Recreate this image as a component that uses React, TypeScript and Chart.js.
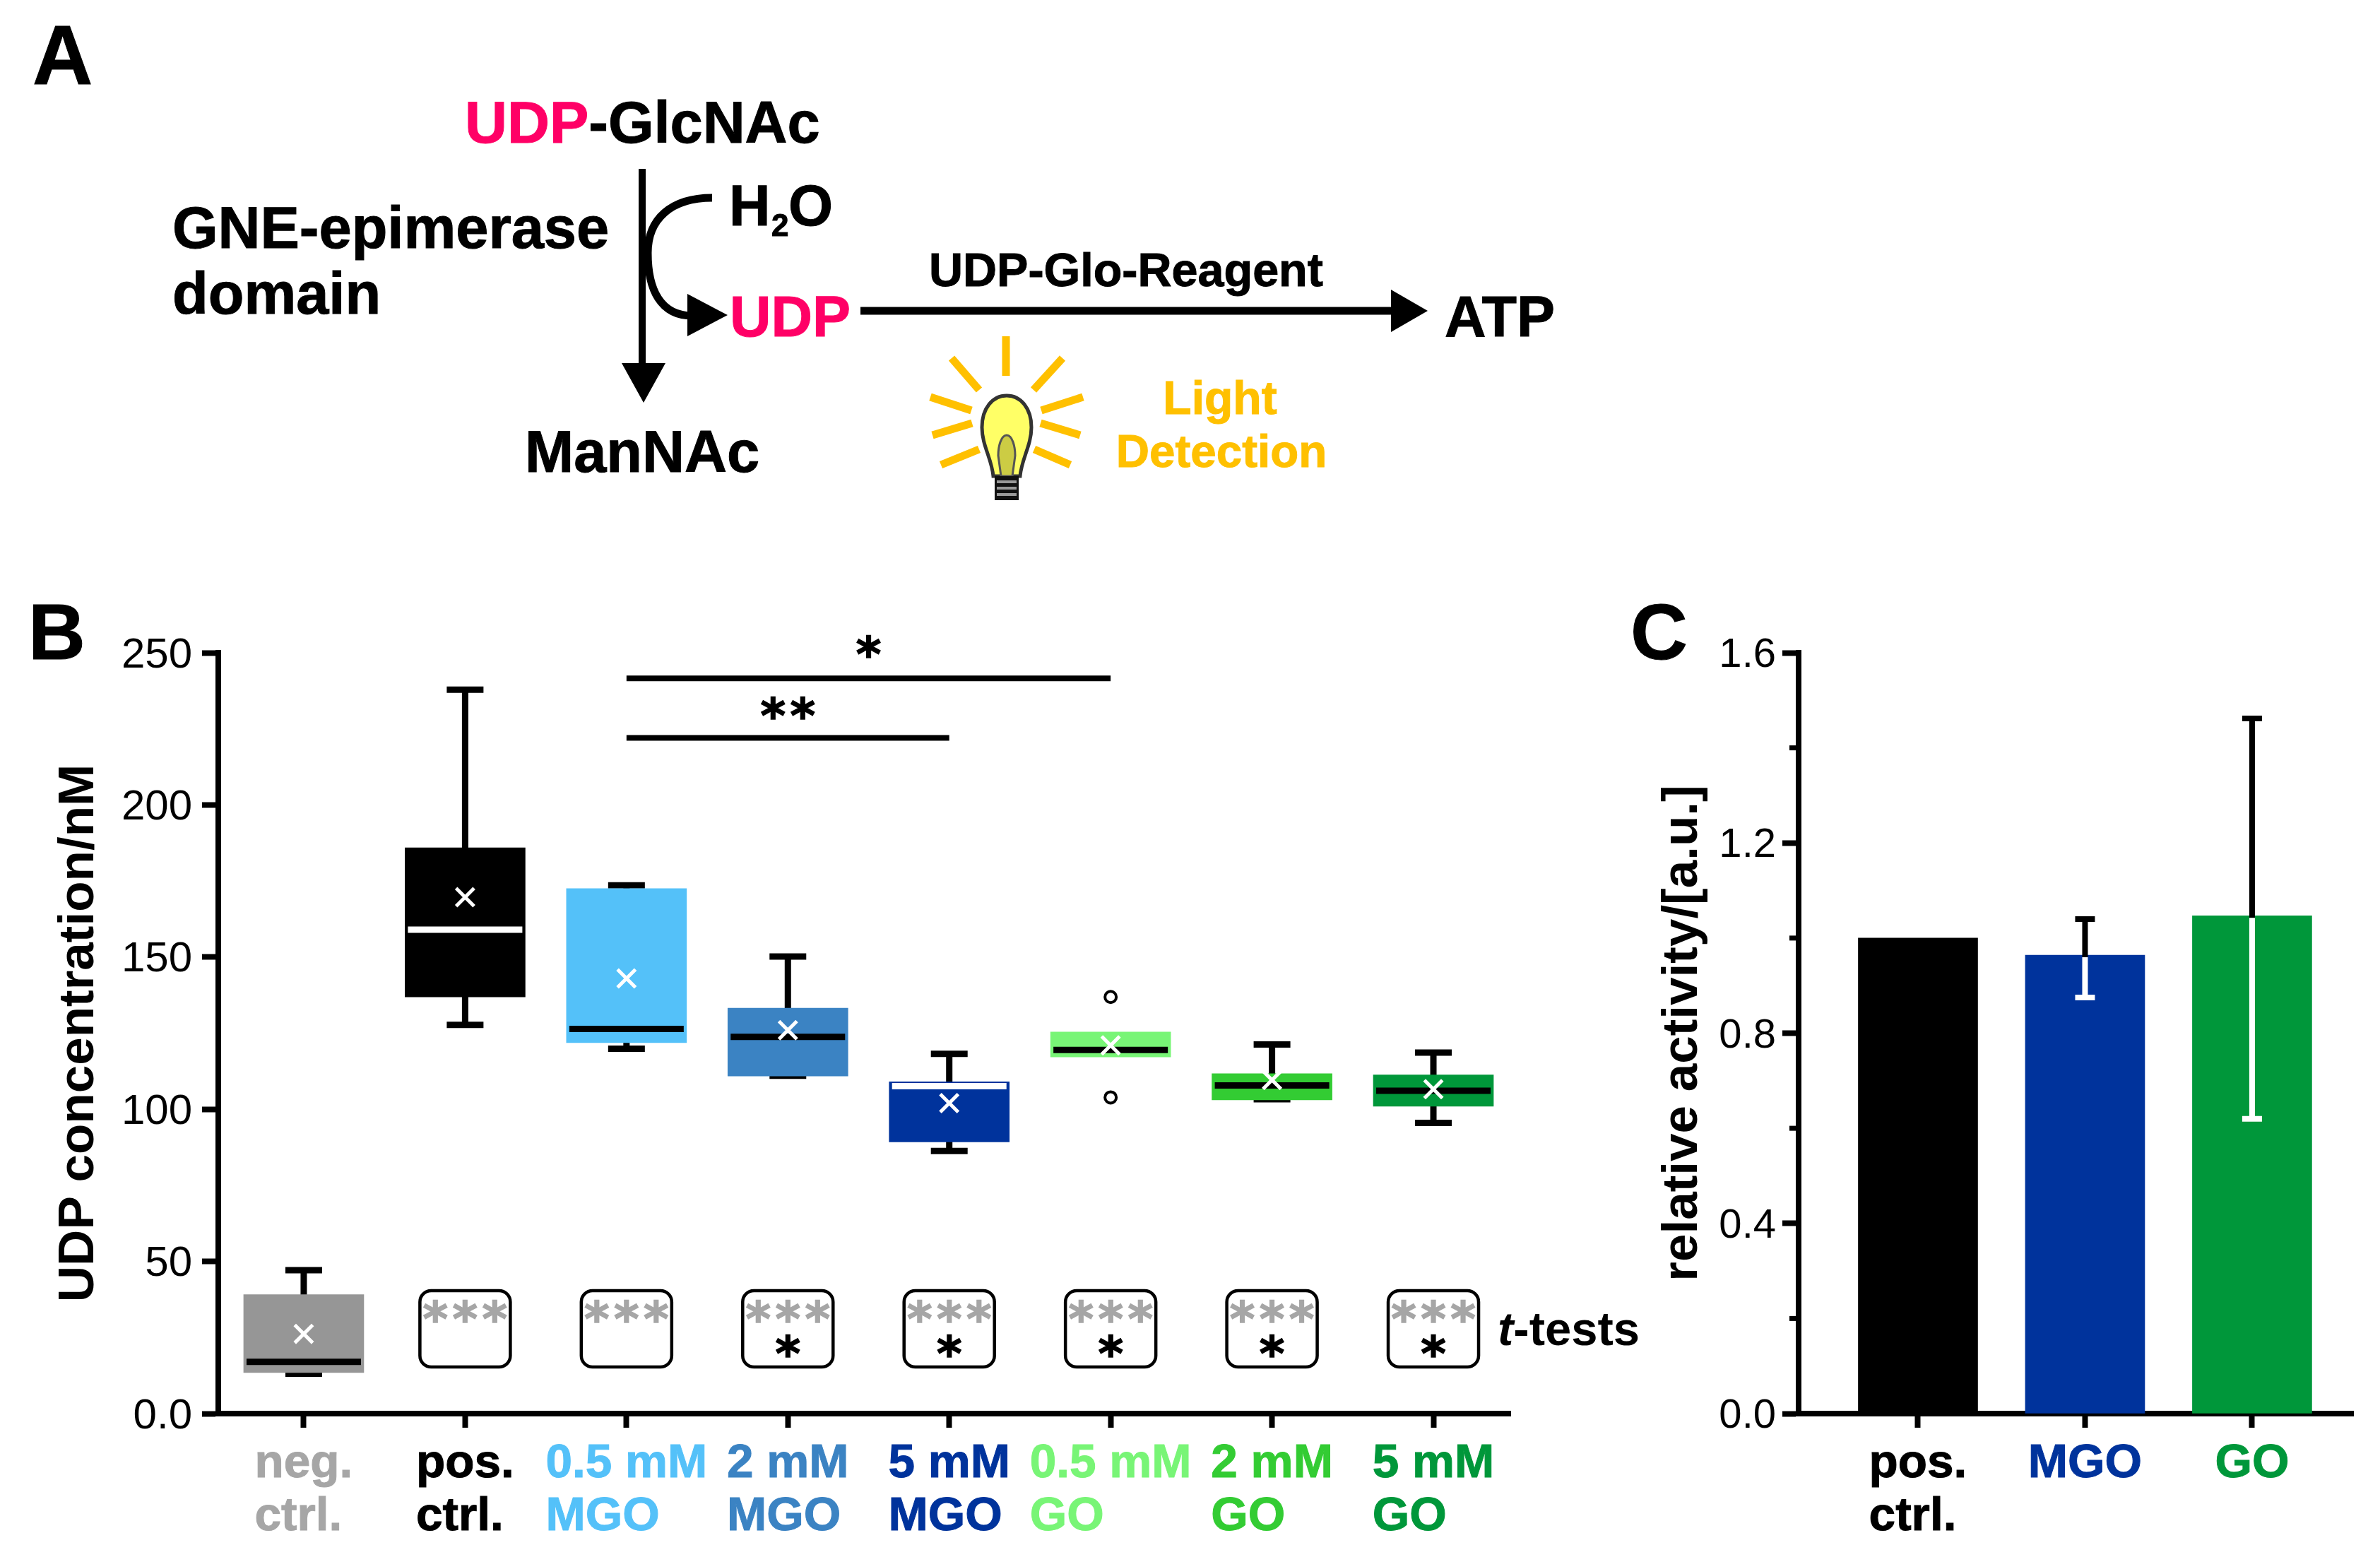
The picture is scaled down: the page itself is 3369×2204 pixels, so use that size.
import React, { useEffect, useRef } from "react";
import { Chart, registerables } from "chart.js";

Chart.register(...registerables);

// ---------- Panel B data ----------
const boxLabels = [
  ["neg.", "ctrl."],
  ["pos.", "ctrl."],
  ["0.5 mM", "MGO"],
  ["2 mM", "MGO"],
  ["5 mM", "MGO"],
  ["0.5 mM", "GO"],
  ["2 mM", "GO"],
  ["5 mM", "GO"],
];
const boxColors = ["#969696", "#000000", "#54C1F9", "#3B83C3", "#00339C", "#78F576", "#33CC33", "#00973A"];
const labelColors = ["#A6A6A6", "#000000", "#54C1F9", "#3B83C3", "#00339C", "#78F576", "#33CC33", "#00973A"];
const q1 = [13.5, 136.9, 121.9, 110.9, 89.3, 117.2, 103.1, 101];
const q3 = [39.1, 185.9, 172.5, 133.2, 109, 125.4, 111.7, 111.3];
const whiskerLow = [13.1, 127.7, 119.9, 111, 86.3, null, 103.3, 95.5];
const whiskerHigh = [47.1, 237.9, 173.6, 150.2, 118.2, null, 121.3, 118.6];
const medians = [17, 159, 126.4, 123.8, 107.6, 119.5, 107.8, 106.1];
const medianColors = ["#000", "#fff", "#000", "#000", "#fff", "#000", "#000", "#000"];
const means = [26.2, 169.7, 143, 126, 102, 121, 109.6, 106.6];
const outlierPoints = [
  { x: 5, y: 136.9 },
  { x: 5, y: 103.9 },
];
const yTicksB = [0, 50, 100, 150, 200, 250];
const greyStarGroups = [1, 2, 3, 4, 5, 6, 7];
const blackStarGroups = [3, 4, 5, 6, 7];
const sigBrackets = [
  { from: 2, to: 5, level: 241.6, text: "*", labelX: 3.5, labelY: 252 },
  { from: 2, to: 4, level: 222, text: "**", labelX: 3, labelY: 232 },
];

// ---------- Panel C data ----------
const activityLabels = [["pos.", "ctrl."], ["MGO"], ["GO"]];
const activityValues = [1.0, 0.964, 1.047];
const activityColors = ["#000000", "#00339C", "#00973A"];
const activityLabelColors = ["#000000", "#00339C", "#00973A"];
const errorHigh = [null, 1.04, 1.462];
const errorLow = [null, 0.875, 0.62];
const yTicksC = [0, 0.4, 0.8, 1.2, 1.6];
const minorTicksC = [0.2, 0.6, 1.0, 1.4];

const SANS = '"Liberation Sans", Arial, sans-serif';
const AXIS_W = 8;

function drawXLabels(chart: any, labels: string[][], colors: string[]) {
  const { ctx, scales, chartArea } = chart;
  ctx.save();
  ctx.font = `bold 67.5px ${SANS}`;
  ctx.textAlign = "left";
  ctx.textBaseline = "alphabetic";
  ctx.lineWidth = 1;
  labels.forEach((lines, i) => {
    const cx = scales.x.getPixelForValue(i);
    const w = Math.max(...lines.map((l) => ctx.measureText(l).width));
    ctx.fillStyle = colors[i];
    ctx.strokeStyle = colors[i];
    lines.forEach((l, k) => {
      ctx.fillText(l, cx - w / 2, chartArea.bottom + 90 + k * 75);
      ctx.strokeText(l, cx - w / 2, chartArea.bottom + 90 + k * 75);
    });
  });
  ctx.restore();
}

function star(ctx: any, x: number, cy: number, color: string) {
  ctx.save();
  ctx.font = `bold 68px "DejaVu Sans"`;
  ctx.textAlign = "center";
  ctx.textBaseline = "alphabetic";
  ctx.fillStyle = color;
  ctx.strokeStyle = color;
  ctx.lineWidth = 1.5;
  const m = ctx.measureText("*");
  const y = cy + (m.actualBoundingBoxAscent - m.actualBoundingBoxDescent) / 2;
  ctx.fillText("*", x, y);
  ctx.strokeText("*", x, y);
  ctx.restore();
}

const boxPlugin = {
  id: "boxParts",
  beforeDatasetsDraw(chart: any) {
    const { ctx, scales } = chart;
    ctx.save();
    ctx.strokeStyle = "#000";
    ctx.lineWidth = 9;
    whiskerHigh.forEach((hi, i) => {
      const lo = whiskerLow[i];
      if (hi === null || lo === null) return;
      const x = scales.x.getPixelForValue(i);
      const yh = scales.y.getPixelForValue(hi);
      const yl = scales.y.getPixelForValue(lo);
      ctx.beginPath();
      ctx.moveTo(x, yh);
      ctx.lineTo(x, yl);
      ctx.moveTo(x - 26, yh);
      ctx.lineTo(x + 26, yh);
      ctx.moveTo(x - 26, yl);
      ctx.lineTo(x + 26, yl);
      ctx.stroke();
    });
    ctx.restore();
  },
  afterDatasetDraw(chart: any, args: any) {
    if (args.index !== 0) return;
    const { ctx, scales } = chart;
    ctx.save();
    ctx.lineWidth = 9;
    medians.forEach((m, i) => {
      const x = scales.x.getPixelForValue(i);
      const y = scales.y.getPixelForValue(m);
      ctx.strokeStyle = medianColors[i];
      ctx.beginPath();
      ctx.moveTo(x - 81, y);
      ctx.lineTo(x + 81, y);
      ctx.stroke();
    });
    ctx.restore();
  },
  afterDatasetsDraw(chart: any) {
    const { ctx, scales, chartArea } = chart;
    ctx.save();
    // significance brackets
    ctx.strokeStyle = "#000";
    ctx.lineWidth = 8;
    sigBrackets.forEach((b) => {
      const y = scales.y.getPixelForValue(b.level);
      ctx.beginPath();
      ctx.moveTo(scales.x.getPixelForValue(b.from), y);
      ctx.lineTo(scales.x.getPixelForValue(b.to), y);
      ctx.stroke();
      const lx = scales.x.getPixelForValue(b.labelX);
      const ly = scales.y.getPixelForValue(b.labelY);
      const n = b.text.length;
      for (let k = 0; k < n; k++) star(ctx, lx + (k - (n - 1) / 2) * 42, ly, "#000");
    });
    // t-test boxes
    ctx.lineWidth = 4.5;
    greyStarGroups.forEach((g) => {
      const x = scales.x.getPixelForValue(g);
      ctx.strokeStyle = "#000";
      ctx.beginPath();
      ctx.roundRect(x - 64, scales.y.getPixelForValue(40.4), 128, scales.y.getPixelForValue(15.3) - scales.y.getPixelForValue(40.4), 16);
      ctx.stroke();
      for (let k = -1; k <= 1; k++) star(ctx, x + k * 42, scales.y.getPixelForValue(33.6), "#A6A6A6");
    });
    blackStarGroups.forEach((g) => star(ctx, scales.x.getPixelForValue(g), scales.y.getPixelForValue(22.2), "#000"));
    // t-tests label
    const tx = scales.x.getPixelForValue(7) + 91;
    const ty = chartArea.bottom - 97;
    ctx.fillStyle = "#000";
    ctx.textAlign = "left";
    ctx.textBaseline = "alphabetic";
    ctx.font = `italic bold 67px ${SANS}`;
    ctx.fillText("t", tx, ty);
    const w = ctx.measureText("t").width;
    ctx.font = `bold 67px ${SANS}`;
    ctx.fillText("-tests", tx + w, ty);
    ctx.restore();
    drawXLabels(chart, boxLabels, labelColors);
  },
};

const barPlugin = {
  id: "barParts",
  afterDatasetsDraw(chart: any) {
    const { ctx, scales } = chart;
    ctx.save();
    ctx.lineWidth = 8;
    errorHigh.forEach((hi, i) => {
      const lo = errorLow[i];
      if (hi === null || lo === null) return;
      const x = scales.x.getPixelForValue(i);
      const yh = scales.y.getPixelForValue(hi);
      const yl = scales.y.getPixelForValue(lo);
      const ym = scales.y.getPixelForValue(activityValues[i]) + 3;
      ctx.strokeStyle = "#000";
      ctx.beginPath();
      ctx.moveTo(x, ym);
      ctx.lineTo(x, yh);
      ctx.moveTo(x - 14, yh);
      ctx.lineTo(x + 14, yh);
      ctx.stroke();
      ctx.strokeStyle = "#fff";
      ctx.beginPath();
      ctx.moveTo(x, ym);
      ctx.lineTo(x, yl);
      ctx.moveTo(x - 14, yl);
      ctx.lineTo(x + 14, yl);
      ctx.stroke();
    });
    // minor y ticks
    ctx.strokeStyle = "#000";
    ctx.lineWidth = AXIS_W - 1;
    const ax = chart.chartArea.left;
    minorTicksC.forEach((v) => {
      const y = scales.y.getPixelForValue(v);
      ctx.beginPath();
      ctx.moveTo(ax - 13, y);
      ctx.lineTo(ax, y);
      ctx.stroke();
    });
    ctx.restore();
    drawXLabels(chart, activityLabels, activityLabelColors);
  },
};

function axisOptions(yMin: number, yMax: number, yTicks: number[], format: (v: number) => string, title: string, titlePad: number, yWidth: number, xMin: number, xMax: number, xCount: number, xHeight: number, tickPad: number, tickSize: number) {
  return {
    x: {
      type: "linear",
      min: xMin,
      max: xMax,
      offset: false,
      afterBuildTicks: (s: any) => {
        s.ticks = Array.from({ length: xCount }, (_, value) => ({ value }));
      },
      afterFit: (s: any) => {
        s.height = xHeight;
      },
      grid: { display: true, offset: false, drawOnChartArea: false, tickLength: 20, tickWidth: AXIS_W, tickColor: "#000" },
      border: { display: true, color: "#000", width: AXIS_W },
      ticks: { display: false },
    },
    y: {
      type: "linear",
      min: yMin,
      max: yMax,
      afterBuildTicks: (s: any) => {
        s.ticks = yTicks.map((value) => ({ value }));
      },
      afterFit: (s: any) => {
        s.width = yWidth;
      },
      grid: { display: true, drawOnChartArea: false, tickLength: 23, tickWidth: AXIS_W, tickColor: "#000" },
      border: { display: true, color: "#000", width: AXIS_W },
      ticks: {
        color: "#000",
        padding: tickPad,
        labelOffset: 4,
        font: { family: SANS, size: tickSize },
        callback: (v: any) => format(Number(v)),
      },
      title: {
        display: true,
        text: title,
        color: "#000",
        font: { family: SANS, size: 71, weight: "bold" },
        padding: { top: titlePad, bottom: 0 },
      },
    },
  };
}

function SchemeOverlay() {
  const t = { fontFamily: SANS, fontWeight: 700 } as any;
  const amber = "#FFC000";
  const pink = "#FF0066";
  const rays = [
    [1424, 476, 1424, 532],
    [1347, 507, 1386, 552],
    [1504, 507, 1463, 552],
    [1317, 562, 1375, 581],
    [1533, 562, 1474, 581],
    [1320, 616, 1376, 599],
    [1529, 616, 1473, 599],
    [1332, 658, 1386, 636],
    [1515, 658, 1464, 636],
  ];
  return (
    <svg width={3369} height={2204} style={{ position: "absolute", left: 0, top: 0, pointerEvents: "none" }}>
      <g {...t} fill="#000" stroke="#000" strokeWidth={1}>
        <text x={46} y={119} fontSize={118}>A</text>
        <text x={40} y={933} fontSize={112}>B</text>
        <text x={2308} y={933} fontSize={112}>C</text>
        <text x={658} y={202} fontSize={83}><tspan fill={pink} stroke={pink}>UDP</tspan>-GlcNAc</text>
        <text x={244} y={351} fontSize={83}>GNE-epimerase</text>
        <text x={244} y={444} fontSize={83}>domain</text>
        <text x={1032} y={319} fontSize={81}>H</text>
        <text x={1092} y={334} fontSize={44}>2</text>
        <text x={1116} y={319} fontSize={81}>O</text>
        <text x={1033} y={476} fontSize={81} fill={pink} stroke={pink}>UDP</text>
        <text x={2045} y={476} fontSize={81}>ATP</text>
        <text x={743} y={668} fontSize={83}>ManNAc</text>
        <text x={1315} y={405} fontSize={66.5}>UDP-Glo-Reagent</text>
        <text x={1727} y={586} fontSize={66} fill={amber} stroke={amber} textAnchor="middle">Light</text>
        <text x={1729} y={661} fontSize={65.5} fill={amber} stroke={amber} textAnchor="middle">Detection</text>
      </g>
      {/* arrows */}
      <line x1={909} y1={239} x2={909} y2={520} stroke="#000" strokeWidth={10} />
      <polygon points="880,514 942,514 911,570" fill="#000" />
      <path d="M1008 280 C950 280 917 310 917 358 C917 410 935 447 980 447" fill="none" stroke="#000" strokeWidth={11} />
      <polygon points="973,416 973,476 1030,446" fill="#000" />
      <line x1={1218} y1={440} x2={1975} y2={440} stroke="#000" strokeWidth={11} />
      <polygon points="1969,410 1969,470 2021,440" fill="#000" />
      {/* bulb */}
      {rays.map((r, i) => (
        <line key={i} x1={r[0]} y1={r[1]} x2={r[2]} y2={r[3]} stroke={amber} strokeWidth={11} />
      ))}
      <path d="M1425 560 C1445 560 1460 578 1460 605 C1460 630 1446 650 1444 674 L1406 674 C1404 650 1390 630 1390 605 C1390 578 1405 560 1425 560 Z" fill="#FFFF66" stroke="#333" strokeWidth={5} />
      <path d="M1425 616 C1433 616 1437 632 1437 645 L1433 674 L1417 674 L1413 645 C1413 632 1417 616 1425 616 Z" fill="#CCCC44" stroke="#555" strokeWidth={3} />
      <rect x={1408} y={674} width={34} height={34} fill="#111" />
      {[680, 689, 698].map((y) => (
        <rect key={y} x={1411} y={y} width={28} height={4} fill="#999" />
      ))}
    </svg>
  );
}

export default function App() {
  const refB = useRef<HTMLCanvasElement>(null);
  const refC = useRef<HTMLCanvasElement>(null);

  useEffect(() => {
    const chartB = new Chart(refB.current as any, {
      type: "bar",
      data: {
        datasets: [
          {
            type: "bar",
            order: 3,
            data: q1.map((a, i) => ({ x: i, y: [a, q3[i]] })),
            backgroundColor: boxColors,
            barThickness: 170,
          },
          {
            type: "scatter",
            order: 1,
            data: means.map((y, x) => ({ x, y })),
            pointStyle: "crossRot",
            pointRadius: 18,
            pointBorderColor: "#fff",
            pointBorderWidth: 5,
            showLine: false,
          },
          {
            type: "scatter",
            order: 2,
            data: outlierPoints,
            pointStyle: "circle",
            pointRadius: 8,
            pointBackgroundColor: "#fff",
            pointBorderColor: "#000",
            pointBorderWidth: 4,
            showLine: false,
          },
        ],
      } as any,
      options: {
        animation: false,
        responsive: false,
        devicePixelRatio: 1,
        layout: { padding: { top: 924, right: 2340 - 2138, left: 0, bottom: 0 } },
        plugins: { legend: { display: false }, tooltip: { enabled: false }, title: { display: false } },
        scales: axisOptions(0, 250, yTicksB, (v) => (v === 0 ? "0.0" : String(v)), "UDP concentration/nM", 70, 309, -0.5295, 7.477, 8, 203, 14, 60),
      } as any,
      plugins: [boxPlugin],
    });

    const chartC = new Chart(refC.current as any, {
      type: "bar",
      data: {
        datasets: [
          {
            data: activityValues.map((y, x) => ({ x, y })),
            backgroundColor: activityColors,
            barThickness: 169,
          },
        ],
      } as any,
      options: {
        animation: false,
        responsive: false,
        devicePixelRatio: 1,
        layout: { padding: { top: 924, right: 3369 - 3331, left: 0, bottom: 0 } },
        plugins: { legend: { display: false }, tooltip: { enabled: false }, title: { display: false } },
        scales: axisOptions(0, 1.6, yTicksC, (v) => v.toFixed(1), "relative activity/[a.u.]", 0, 206, -0.7146, 2.605, 3, 203, 9, 58),
      } as any,
      plugins: [barPlugin],
    });

    return () => {
      chartB.destroy();
      chartC.destroy();
    };
  }, []);

  return (
    <div style={{ position: "relative", width: 3369, height: 2204, background: "#fff", overflow: "hidden" }}>
      <style>{"html,body{margin:0;padding:0;background:#fff;overflow:hidden}"}</style>
      <canvas ref={refB} width={2340} height={2204} style={{ position: "absolute", left: 0, top: 0 }} />
      <canvas ref={refC} width={1029} height={2204} style={{ position: "absolute", left: 2340, top: 0 }} />
      <SchemeOverlay />
    </div>
  );
}
